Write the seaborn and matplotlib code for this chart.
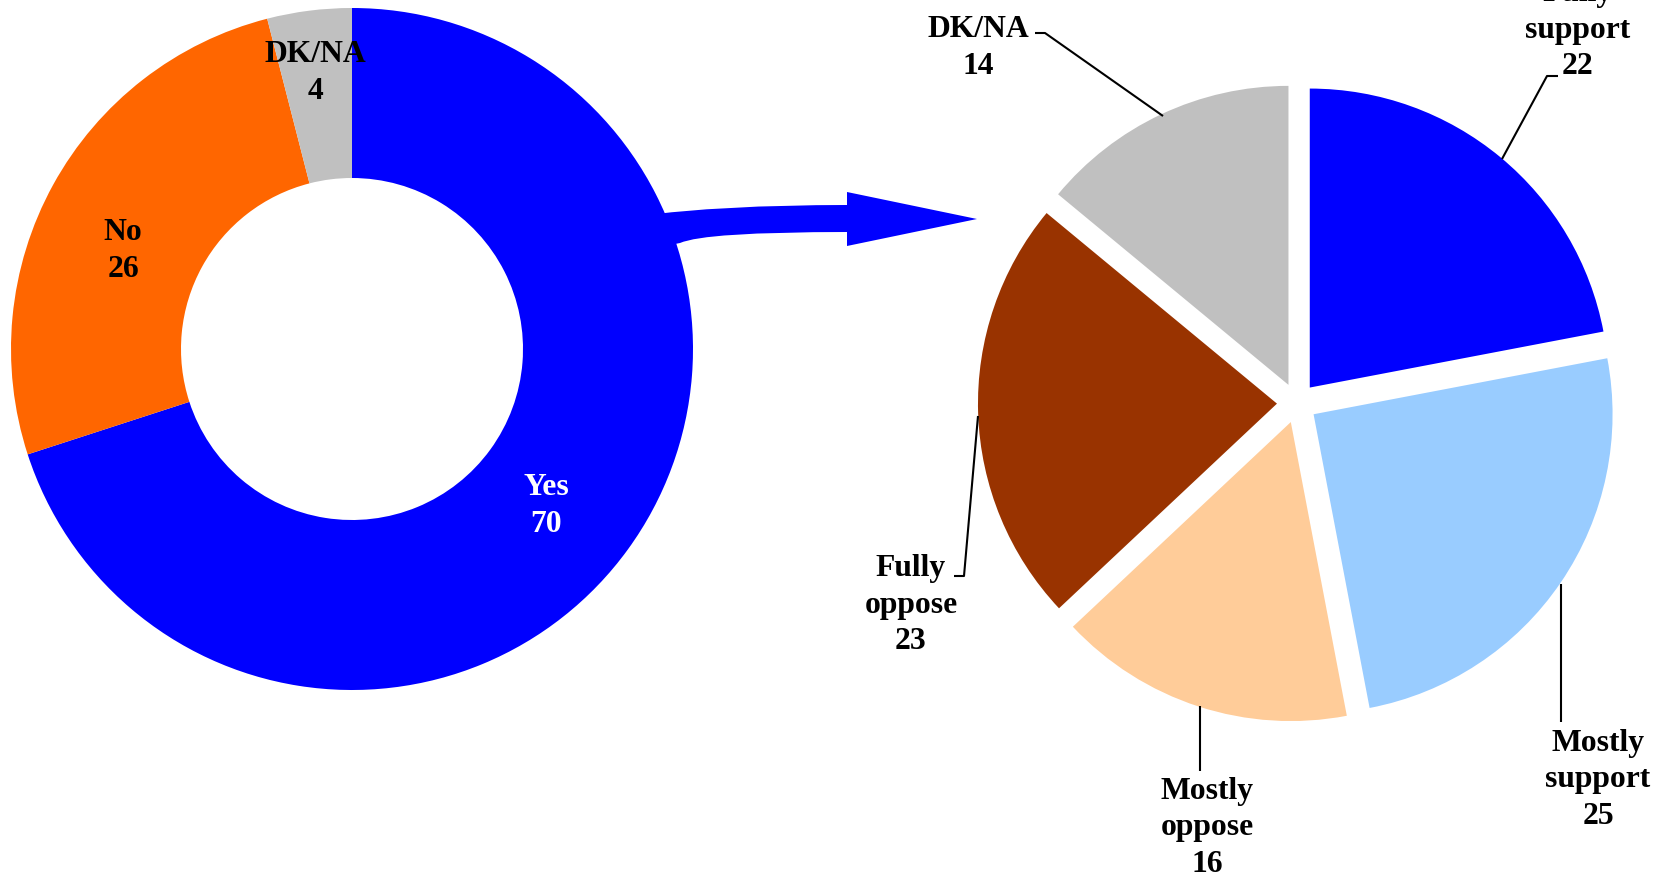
import matplotlib
matplotlib.use("Agg")
import matplotlib.pyplot as plt
import seaborn as sns
from matplotlib.path import Path
from matplotlib.patches import PathPatch

# ---------------- data ----------------
donut_labels = ["Yes", "No", "DK/NA"]
donut_values = [70, 26, 4]
donut_colors = ["#0000FF", "#FF6600", "#C0C0C0"]

pie_labels = ["Fully\nsupport", "Mostly\nsupport", "Mostly\noppose", "Fully\noppose", "DK/NA"]
pie_values = [22, 25, 16, 23, 14]
pie_colors = ["#0000FF", "#99CCFF", "#FFCC99", "#993300", "#C0C0C0"]

sns.set_theme(style="white")
plt.rcParams["font.family"] = ["Liberation Serif", "DejaVu Serif"]

W, H = 1667, 878
fig = plt.figure(figsize=(W / 100, H / 100), dpi=100)
ax = fig.add_axes([0, 0, 1, 1])

def Y(y):
    return H - y

FS = 22.8
LS = 1.34

# ---------------- arrow (behind donut) ----------------
verts = [
    (640, Y(217)),
    (720, Y(206)), (847, Y(206)),
    (847, Y(193)),
    (977, Y(220)),
    (847, Y(247)),
    (847, Y(233)),
    (705, Y(233)), (680, Y(244)),
    (650, Y(250)),
    (640, Y(217)),
]
codes = [Path.MOVETO, Path.CURVE3, Path.CURVE3, Path.LINETO, Path.LINETO, Path.LINETO,
         Path.LINETO, Path.CURVE3, Path.CURVE3, Path.LINETO, Path.CLOSEPOLY]
ax.add_patch(PathPatch(Path(verts, codes), facecolor="#0000FF", edgecolor="none", zorder=0))

# ---------------- donut ----------------
ax.pie(donut_values, colors=donut_colors, startangle=90, counterclock=False,
       center=(352, Y(350)), radius=341, frame=True,
       wedgeprops=dict(width=170, linewidth=0, edgecolor="none"))

donut_text_pos = [(546, 506, "white"), (123, 251, "black"), (315, 73, "black")]
for lab, val, (x, y, c) in zip(donut_labels, donut_values, donut_text_pos):
    ax.text(x, Y(y), f"{lab}\n{val}", ha="center", va="center", fontsize=FS,
            fontweight="bold", color=c, linespacing=LS, zorder=5)

# ---------------- exploded pie ----------------
pie_radius = 299
ax.pie(pie_values, colors=pie_colors, startangle=90, counterclock=False,
       center=(1297, Y(404)), radius=pie_radius,
       explode=[0.067 * pie_radius] * len(pie_values), frame=True,
       wedgeprops=dict(linewidth=0, edgecolor="none"))

pie_text_pos = [(1578, 30), (1598, 780), (1207, 828), (911, 605), (978, 48)]
for lab, val, (x, y) in zip(pie_labels, pie_values, pie_text_pos):
    ax.text(x, Y(y), f"{lab}\n{val}", ha="center", va="center", fontsize=FS,
            fontweight="bold", color="black", linespacing=LS, zorder=5)

leaders = [
    [(1502, 160), (1547, 77), (1558, 77)],
    [(1561, 585), (1561, 723)],
    [(1200, 707), (1200, 772)],
    [(978, 417), (964, 577), (954, 577)],
    [(1163, 117), (1045, 34), (1035, 34)],
]
for pts in leaders:
    ax.plot([p[0] for p in pts], [Y(p[1]) for p in pts], color="black", lw=1.5, zorder=4,
            solid_capstyle="butt")

ax.set_xlim(0, W)
ax.set_ylim(0, H)
ax.set_aspect("equal")
ax.axis("off")

fig.savefig("out.png", dpi=100)
